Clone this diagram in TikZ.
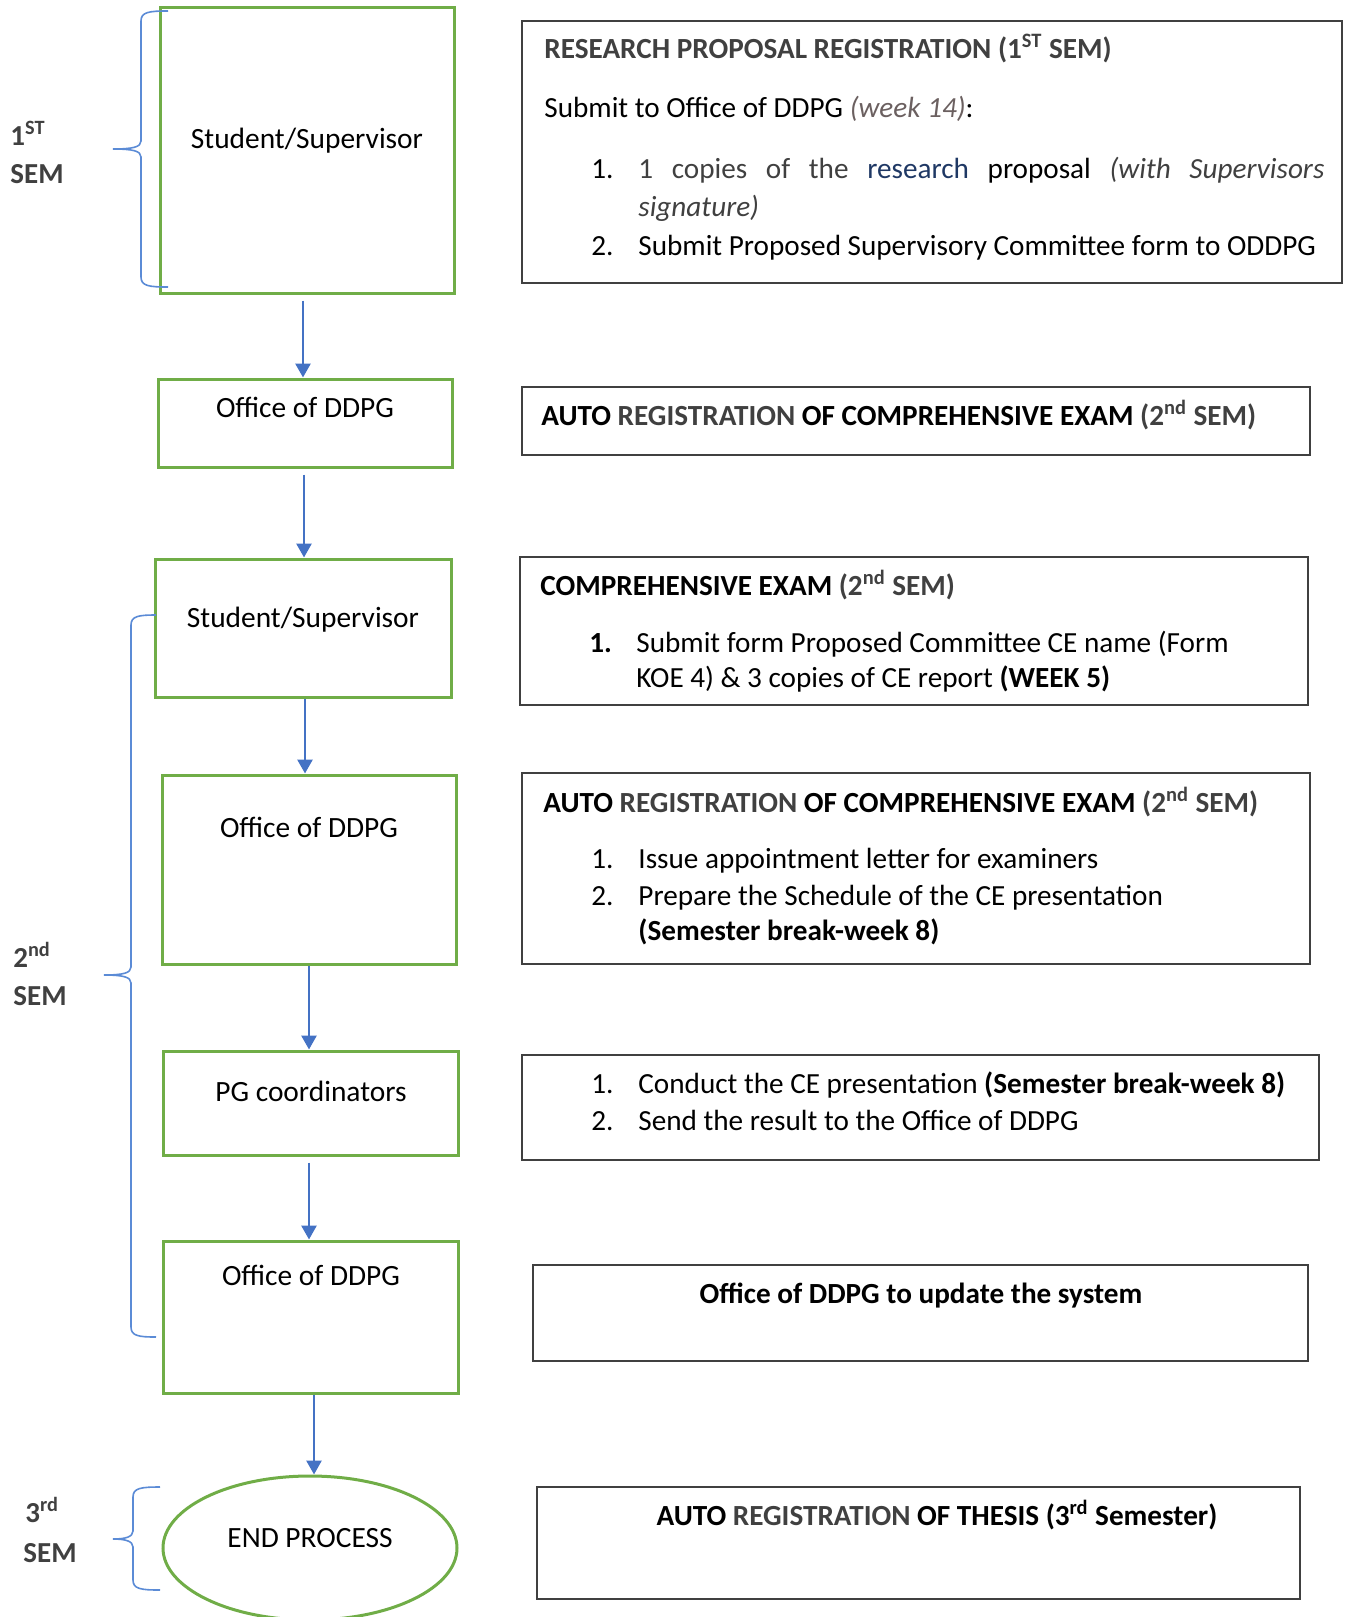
\documentclass[tikz,border=0pt]{standalone}
\usepackage{fontspec}
\setmainfont{Carlito}
\usetikzlibrary{arrows.meta,fit,shapes.geometric}

\definecolor{boxgreen}{HTML}{70AD47}
\definecolor{flowblue}{HTML}{4472C4}
\definecolor{braceblue}{HTML}{5B8BD6}
\definecolor{darkgrey}{HTML}{404040}
\definecolor{weekgrey}{HTML}{6B6060}
\definecolor{navytxt}{HTML}{1F3864}

% curly brace: x of ends, x of stem, x of tip, y top, y tip, y bottom
\newcommand{\sembrace}[6]{%
  \draw[semibrace] (#1,#4) .. controls (#2+8,#4) and (#2,#4+1) .. (#2,#4+10)
    -- (#2,#5-8) .. controls (#2,#5-2) and (#2-8,#5) .. (#3,#5)
    .. controls (#2-8,#5) and (#2,#5+2) .. (#2,#5+8)
    -- (#2,#6-10) .. controls (#2,#6-1) and (#2+8,#6) .. (#1,#6);}

\begin{document}
\begin{tikzpicture}[x=0.5pt,y=-0.5pt,
    stepbox/.style={draw=boxgreen,line width=1.5pt,inner sep=0pt},
    infobox/.style={draw=darkgrey,line width=1pt,inner sep=0pt},
    flow/.style={draw=flowblue,line width=1.4pt,-{Triangle[width=7.5pt,length=7pt]}},
    gap/.style={shorten <=3pt},
    semibrace/.style={draw=braceblue,line width=0.8pt},
    boxtxt/.style={font=\fontsize{14.7}{17}\selectfont,anchor=base,inner sep=0pt},
    infotxt/.style={font=\fontsize{14.6}{17}\selectfont,anchor=base west,inner sep=0pt},
    infotitle/.style={font=\fontsize{14.6}{17}\selectfont\bfseries,anchor=base west,inner sep=0pt},
    semtxt/.style={font=\fontsize{14.5}{17}\selectfont\bfseries,text=darkgrey,anchor=base west,inner sep=0pt}]
  \useasboundingbox (0,0) rectangle (1344,1617);

  % left column: the steps
  \node[stepbox,fit={(160,7) (454,293)}] (ss1) {};
  \node[boxtxt] (ss1txt) at (307,148) {Student/Supervisor};
  \node[stepbox,fit={(158,379) (452,467)}] (od1) {};
  \node[boxtxt] (od1txt) at (305,417) {Office of DDPG};
  \node[stepbox,fit={(155,559) (451,697)}] (ss2) {};
  \node[boxtxt] (ss2txt) at (303,627) {Student/Supervisor};
  \node[stepbox,fit={(162,775) (456,964)}] (od2) {};
  \node[boxtxt] (od2txt) at (309,837) {Office of DDPG};
  \node[stepbox,fit={(163,1051) (458,1155)}] (pgc) {};
  \node[boxtxt] (pgctxt) at (311,1101) {PG coordinators};
  \node[stepbox,fit={(163,1241) (458,1393)}] (od3) {};
  \node[boxtxt] (od3txt) at (311,1285) {Office of DDPG};
  \node[draw=boxgreen,line width=1.5pt,ellipse,minimum width=147pt,minimum height=72pt] (endp) at (310,1548) {};
  \node[boxtxt] (endtxt) at (310,1547) {END PROCESS};

  \draw[flow,gap] ([xshift=-1pt]od1.north |- ss1.south) -- ([xshift=-1pt]od1.north);
  \draw[flow,gap] ([xshift=0.5pt]ss2.north |- od1.south) -- ([xshift=0.5pt]ss2.north);
  \draw[flow] ([xshift=-2pt]od2.north |- ss2.south) -- ([xshift=-2pt]od2.north);
  \draw[flow] ([xshift=-0.75pt]pgc.north |- od2.south) -- ([xshift=-0.75pt]pgc.north);
  \draw[flow,gap] ([xshift=-0.75pt]od3.north |- pgc.south) -- ([xshift=-0.75pt]od3.north);
  \draw[flow] ([xshift=2pt]endp.north |- od3.south) -- ([xshift=2pt]endp.north);

  % semesters
  \sembrace{168}{141}{113}{11}{149}{287}
  \sembrace{156}{131}{104}{615}{975}{1337}
  \sembrace{160}{133}{113}{1487}{1539}{1590}
  \node[semtxt] (sem1a) at (10,145) {1\textsuperscript{ST}};
  \node[semtxt] (sem1b) at (10,183) {SEM};
  \node[semtxt] (sem2a) at (13,967) {2\textsuperscript{nd}};
  \node[semtxt] (sem2b) at (13,1005) {SEM};
  \node[semtxt] (sem3a) at (25,1522) {3\textsuperscript{rd}};
  \node[semtxt] (sem3b) at (23,1562) {SEM};

  % right column: what is done
  \node[infobox,fit={(522,21) (1342,283)}] (rp) {};
  \node[infotitle,text=darkgrey] (rptitle) at (544,58) {RESEARCH PROPOSAL REGISTRATION (1\textsuperscript{ST} SEM)};
  \node[infotxt] (rpsub) at (544,117) {Submit to Office of DDPG \textcolor{weekgrey}{\textit{(week 14)}}:};
  \node[infotxt] (rpn1) at (591,178) {1.};
  \node[infotxt] (rpi1) at (638,178) {\makebox[343pt][s]{\textcolor{darkgrey}{1 copies of the} \textcolor{navytxt}{research} proposal \textcolor{darkgrey}{\textit{(with Supervisors}}}};
  \node[infotxt,text=darkgrey] (rpi1b) at (638,216) {\textit{signature)}};
  \node[infotxt] (rpn2) at (591,255) {2.};
  \node[infotxt] (rpi2) at (638,255) {Submit Proposed Supervisory Committee form to ODDPG};

  \node[infobox,fit={(522,387) (1310,455)}] (ar1) {};
  \node[infotitle] (ar1title) at (541,425) {AUTO \textcolor{darkgrey}{REGISTRATION} OF COMPREHENSIVE EXAM \textcolor{darkgrey}{(2\textsuperscript{nd} SEM)}};

  \node[infobox,fit={(520,557) (1308,705)}] (ce) {};
  \node[infotitle] (cetitle) at (540,595) {COMPREHENSIVE EXAM \textcolor{darkgrey}{(2\textsuperscript{nd} SEM)}};
  \node[infotitle] (cen1) at (589,652) {1.};
  \node[infotxt] (cei1) at (636,652) {Submit form Proposed Committee CE name (Form};
  \node[infotxt] (cei1b) at (636,687) {KOE 4) \& 3 copies of CE report \textbf{(WEEK 5)}};

  \node[infobox,fit={(522,773) (1310,964)}] (ar2) {};
  \node[infotitle] (ar2title) at (543,812) {AUTO \textcolor{darkgrey}{REGISTRATION} OF COMPREHENSIVE EXAM \textcolor{darkgrey}{(2\textsuperscript{nd} SEM)}};
  \node[infotxt] (ar2n1) at (591,868) {1.};
  \node[infotxt] (ar2i1) at (638,868) {Issue appointment letter for examiners};
  \node[infotxt] (ar2n2) at (591,905) {2.};
  \node[infotxt] (ar2i2) at (638,905) {Prepare the Schedule of the CE presentation};
  \node[infotitle] (ar2i2b) at (638,940) {(Semester break-week 8)};

  \node[infobox,fit={(522,1055) (1319,1160)}] (cp) {};
  \node[infotxt] (cpn1) at (591,1093) {1.};
  \node[infotxt] (cpi1) at (638,1093) {Conduct the CE presentation \textbf{(Semester break-week 8)}};
  \node[infotxt] (cpn2) at (591,1130) {2.};
  \node[infotxt] (cpi2) at (638,1130) {Send the result to the Office of DDPG};

  \node[infobox,fit={(533,1265) (1308,1361)}] (up) {};
  \node[infotitle,anchor=base] (uptitle) at (921,1303) {Office of DDPG to update the system};

  \node[infobox,fit={(537,1487) (1300,1599)}] (th) {};
  \node[infotitle,anchor=base] (thtitle) at (937,1525) {AUTO \textcolor{darkgrey}{REGISTRATION} OF THESIS (3\textsuperscript{rd} Semester)};
\end{tikzpicture}
\end{document}
